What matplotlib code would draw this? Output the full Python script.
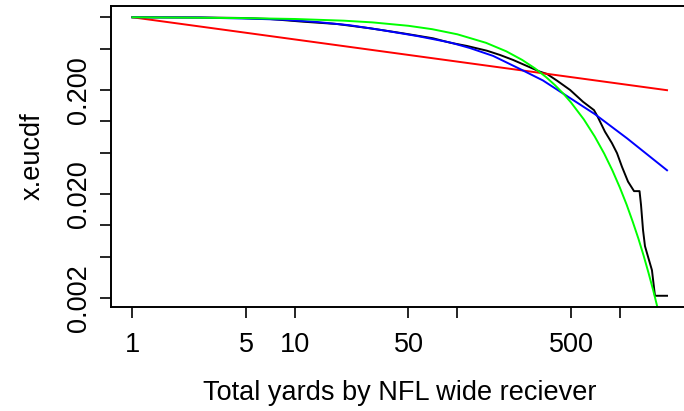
import numpy as np
import matplotlib
matplotlib.use("Agg")
from matplotlib import pyplot as plt

plt.rcParams['font.family'] = ['Liberation Sans', 'DejaVu Sans']

emp_x = [1, 2.6, 4.6, 7.0, 11.2, 18.1, 29, 46, 70.8, 90, 114.5, 152, 183, 220, 268,
         322, 356, 410, 494, 593, 693, 729, 809, 893, 960, 1030, 1122, 1222, 1321,
         1349, 1388, 1427, 1489, 1575, 1644, 1950]
emp_y = [1.0, 0.996, 0.985, 0.963, 0.907, 0.862, 0.784, 0.702, 0.628, 0.570, 0.530,
         0.477, 0.434, 0.389, 0.340, 0.300, 0.285, 0.246, 0.200, 0.154, 0.128, 0.111,
         0.0795, 0.0617, 0.0494, 0.0365, 0.0263, 0.0213, 0.0213, 0.0157, 0.0090,
         0.0063, 0.0050, 0.0037, 0.0021, 0.0021]

# power law fit (red)
pl_x = [1, 1950]
pl_y = [1.0, 0.199]

# lognormal fit (blue)
ln_x = [1, 2.61, 5.29, 8.45, 13.7, 21.8, 34.8, 56.4, 90, 119, 166, 243, 336, 472,
        702, 1106, 1950]
ln_y = [1.0, 0.993, 0.970, 0.948, 0.901, 0.838, 0.750, 0.661, 0.573, 0.507, 0.425,
        0.318, 0.247, 0.175, 0.117, 0.0686, 0.0338]

# exponential fit (green)
ex_x = [1, 2, 5, 10, 20, 30, 50, 70, 100, 150, 200, 250, 300, 350, 400, 450, 500,
        600, 700, 800, 900, 1000, 1100, 1200, 1300, 1400, 1500, 1600, 1700, 1800]
ex_y = [1.0, 0.9925, 0.9813, 0.9630, 0.9274, 0.8931, 0.8281, 0.7681, 0.6859, 0.5681,
        0.4705, 0.3896, 0.3228, 0.2673, 0.2214, 0.1834, 0.1518, 0.1042, 0.0714,
        0.0490, 0.0336, 0.0230, 0.0158, 0.0108, 0.00744, 0.00510, 0.00349, 0.00240,
        0.00164, 0.00113]

xticks = [1, 5, 10, 50, 100, 500, 1000]
xlabels = ['1', '5', '10', '50', '', '500', '']
yticks = [1, 0.5, 0.2, 0.1, 0.05, 0.02, 0.01, 0.005, 0.002]
ylabels = ['', '', '0.200', '', '', '0.020', '', '', '0.002']

fig = plt.figure(figsize=(6.84, 4.11), dpi=100)
ax = fig.add_axes([111/684, 104.2/411, 577.4/684, 300.6/411])

ax.plot(emp_x, emp_y, color='black', lw=1.4)
ax.plot(pl_x, pl_y, color='#ff0000', lw=1.4)
ax.plot(ln_x, ln_y, color='#0000ff', lw=1.4)
ax.plot(ex_x, ex_y, color='#00ff00', lw=1.4)

ax.set_xscale('log')
ax.set_yscale('log')
ax.set_xlim(0.7385, 2640)
ax.set_ylim(0.001645, 1.278)
ax.minorticks_off()
ax.set_xticks(xticks)
ax.set_xticklabels(xlabels)
ax.set_yticks(yticks)
ax.set_yticklabels(ylabels, rotation=90, va='center')

for s in ax.spines.values():
    s.set_linewidth(1.4)
ax.tick_params(length=8, width=1.2, labelsize=19.5, direction='out')
ax.tick_params(axis='x', pad=10)
ax.tick_params(axis='y', pad=6)

ax.set_xlabel('Total yards by NFL wide reciever', fontsize=19.5, labelpad=16)
ax.set_ylabel('x.eucdf', fontsize=19.5, labelpad=14)

plt.savefig('out.png', dpi=100)
